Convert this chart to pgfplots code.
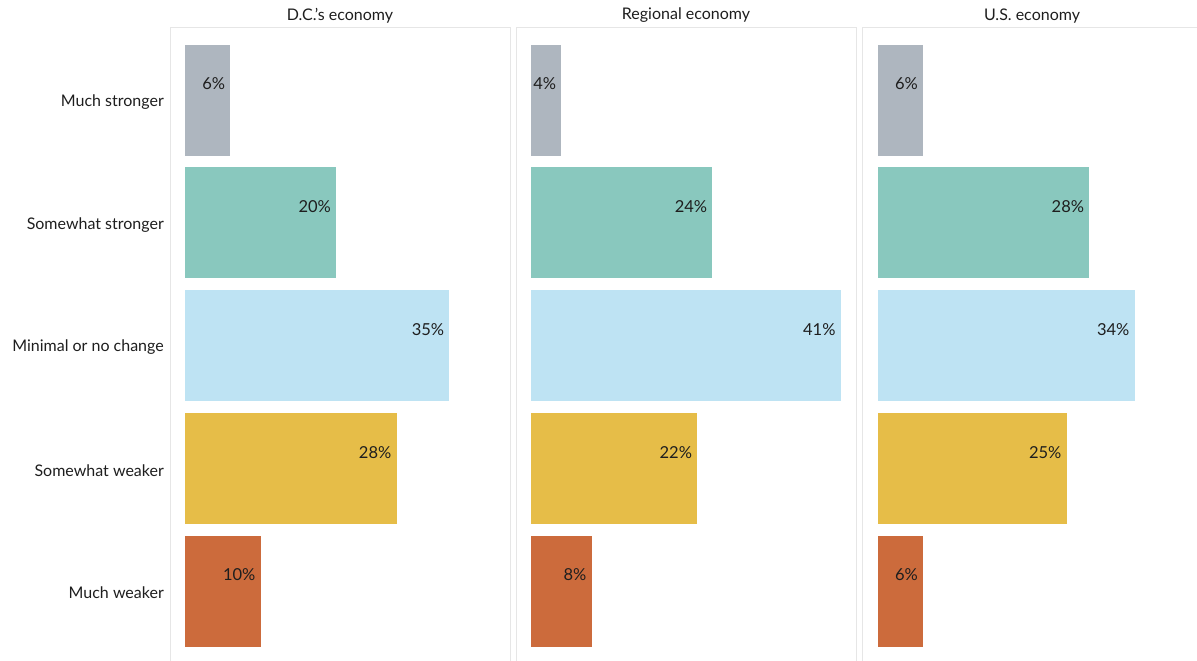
\documentclass[border=0pt]{standalone}
\usepackage{pgfplots}
\pgfplotsset{compat=1.18}
\usepackage{fontspec}
\setmainfont{Lato}
\definecolor{cgray}{HTML}{AEB6BF}
\definecolor{cteal}{HTML}{89C8BE}
\definecolor{cblue}{HTML}{BEE3F3}
\definecolor{cyellow}{HTML}{E6BD48}
\definecolor{corange}{HTML}{CC6B3C}
\definecolor{cframe}{HTML}{E6E6E6}
\definecolor{ctext}{HTML}{1E1E1E}
\pgfplotsset{
  panel/.style={
    scale only axis, width=340pt, height=644pt,
    xmin=-2, xmax=43.03, ymin=-0.595, ymax=4.651, y dir=reverse,
    xbar, bar width=111pt, bar shift=0pt,
    axis line style={draw=cframe, line width=0.9pt},
    xtick=\empty, ytick={0,1,2,3,4}, yticklabels={},
    major tick length=0pt,
    font=\fontsize{16}{19}\selectfont, text=ctext,
    /pgf/number format/assume math mode=true,
    nodes near coords={\pgfmathprintnumber{\pgfplotspointmeta}\%},
    every node near coord/.append style={anchor=east, inner sep=2pt, xshift=-3pt, yshift=16pt, text=ctext, font=\fontsize{16.5}{19}\selectfont},
    title style={at={(0.5,1)}, anchor=south, inner sep=0pt, yshift=-2pt, font=\fontsize{16}{19}\selectfont},
  },
}
\begin{document}
\begin{tikzpicture}[x=1pt,y=1pt]
\useasboundingbox (0,0) rectangle (1197,661);
% D.C.
\begin{axis}[panel, at={(170pt,-10pt)}, anchor=south west, title={D.C.'s economy},
  yticklabels={Much stronger,Somewhat stronger,Minimal or no change,Somewhat weaker,Much weaker},
  yticklabel style={inner sep=0pt, xshift=-6pt, yshift=-2pt, text=ctext}]
\addplot[fill=cgray, draw=none] coordinates {(6,0)};
\addplot[fill=cteal, draw=none] coordinates {(20,1)};
\addplot[fill=cblue, draw=none] coordinates {(35,2)};
\addplot[fill=cyellow, draw=none] coordinates {(28,3)};
\addplot[fill=corange, draw=none] coordinates {(10,4)};
\end{axis}
% Regional
\begin{axis}[panel, at={(516pt,-10pt)}, anchor=south west, title={Regional economy}]
\addplot[fill=cgray, draw=none] coordinates {(4,0)};
\addplot[fill=cteal, draw=none] coordinates {(24,1)};
\addplot[fill=cblue, draw=none] coordinates {(41,2)};
\addplot[fill=cyellow, draw=none] coordinates {(22,3)};
\addplot[fill=corange, draw=none] coordinates {(8,4)};
\end{axis}
% U.S.
\begin{axis}[panel, at={(862pt,-10pt)}, anchor=south west, title={U.S. economy}, xmin=-2.1, xmax=42.93]
\addplot[fill=cgray, draw=none] coordinates {(6,0)};
\addplot[fill=cteal, draw=none] coordinates {(28,1)};
\addplot[fill=cblue, draw=none] coordinates {(34,2)};
\addplot[fill=cyellow, draw=none] coordinates {(25,3)};
\addplot[fill=corange, draw=none] coordinates {(6,4)};
\end{axis}
\end{tikzpicture}
\end{document}
